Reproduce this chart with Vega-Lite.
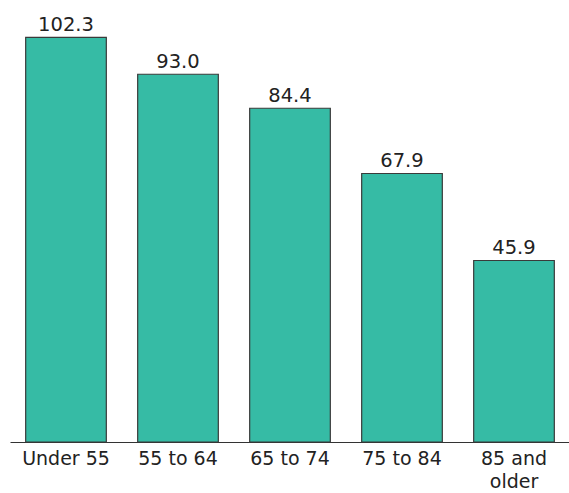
{
  "$schema": "https://vega.github.io/schema/vega-lite/v6.json",
  "autosize": "none",
  "width": 560,
  "height": 435,
  "padding": {"left": 10, "top": 7, "right": 0, "bottom": 51},
  "background": "white",
  "config": {
    "view": {"stroke": null},
    "font": "DejaVu Sans"
  },
  "data": {
    "values": [
      {"age": "Under 55", "value": 102.3},
      {"age": "55 to 64", "value": 93.0},
      {"age": "65 to 74", "value": 84.4},
      {"age": "75 to 84", "value": 67.9},
      {"age": "85 and older", "value": 45.9}
    ]
  },
  "encoding": {
    "x": {
      "field": "age",
      "type": "nominal",
      "sort": null,
      "scale": {"paddingInner": 0.28, "paddingOuter": 0.14},
      "axis": {
        "title": null,
        "labelAngle": 0,
        "labelFont": "DejaVu Sans",
        "labelFontSize": 19,
        "labelColor": "#222222",
        "labelPadding": 7,
        "labelLineHeight": 23,
        "labelExpr": "datum.value == '85 and older' ? ['85 and', 'older'] : datum.label",
        "ticks": false,
        "domainColor": "#333333",
        "domainWidth": 1.2
      }
    },
    "y": {
      "field": "value",
      "type": "quantitative",
      "scale": {"domain": [0, 110], "nice": false},
      "axis": null
    }
  },
  "layer": [
    {
      "mark": {"type": "bar", "color": "#36BBA5", "stroke": "#3a3a3a", "strokeWidth": 1.2}
    },
    {
      "mark": {"type": "text", "baseline": "alphabetic", "dy": -6, "fontSize": 19.5, "color": "#222222", "font": "DejaVu Sans"},
      "encoding": {
        "text": {"field": "value", "type": "quantitative", "format": ".1f"}
      }
    }
  ]
}
